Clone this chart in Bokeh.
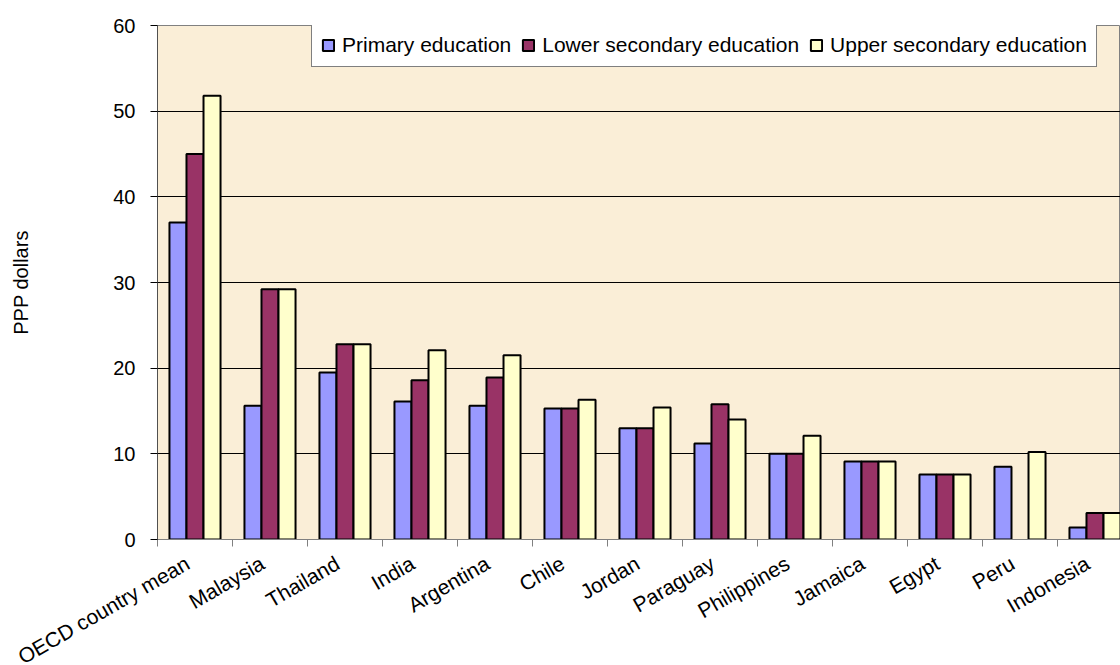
from bokeh.plotting import figure
from bokeh.models import ColumnDataSource, FixedTicker, Range1d, Legend, LegendItem
from bokeh.transform import dodge
from bokeh.embed import file_html
from bokeh.resources import INLINE
import math

# Annual expenditure per student, PPP dollars
countries = ["OECD country mean", "Malaysia", "Thailand", "India", "Argentina", "Chile",
             "Jordan", "Paraguay", "Philippines", "Jamaica", "Egypt", "Peru", "Indonesia"]
primary = [37.0, 15.6, 19.5, 16.1, 15.6, 15.3, 13.0, 11.2, 10.0, 9.1, 7.6, 8.5, 1.4]
lower_secondary = [45.0, 29.2, 22.8, 18.6, 18.9, 15.3, 13.0, 15.8, 10.0, 9.1, 7.6, float("nan"), 3.1]
upper_secondary = [51.8, 29.2, 22.8, 22.1, 21.5, 16.3, 15.4, 14.0, 12.1, 9.1, 7.6, 10.2, 3.1]
series_names = ["Primary education", "Lower secondary education", "Upper secondary education"]
y_ticks = [0, 10, 20, 30, 40, 50, 60]
grid_ticks = [10, 20, 30, 40, 50]

FONT = "Liberation Sans"
colors = ["#9999FF", "#993366", "#FFFFCC"]

pos = list(range(len(countries)))
source = ColumnDataSource(dict(x=pos, primary=primary, lower=lower_secondary, upper=upper_secondary))

# fixed frame; the rotated category names run past the bottom of the page
p = figure(width=1120, frame_height=514, output_backend="svg", toolbar_location=None,
           x_range=Range1d(-0.5, 12.34), y_range=Range1d(0, 60),
           min_border_left=157, min_border_right=0, min_border_top=25, min_border_bottom=126)

p.background_fill_color = "#FAEED7"
p.border_fill_color = "white"
p.outline_line_color = "#808080"
p.outline_line_width = 1

bw = 0.227
renderers = []
for field, off, col in zip(["primary", "lower", "upper"], [-bw, 0.0, bw], colors):
    r = p.vbar(x=dodge("x", off, range=p.x_range), top=field, width=bw, bottom=0,
               source=source, fill_color=col, line_color="black", line_width=2)
    renderers.append(r)

# x axis: rotated category names, tick marks between categories
label_shift = 0.1
label_pos = [i - label_shift for i in pos]
xax = p.xaxis[0]
xax.ticker = FixedTicker(ticks=label_pos, minor_ticks=[i - 0.5 for i in range(len(countries) + 1)])
xax.major_label_overrides = {lp: name for lp, name in zip(label_pos, countries)}
xax.major_label_orientation = math.radians(30)
xax.major_tick_out = 0
xax.major_tick_in = 0
xax.minor_tick_out = 7
xax.minor_tick_in = 0
xax.minor_tick_line_color = "#808080"
xax.axis_line_color = "#808080"
xax.major_label_text_font = FONT
xax.major_label_text_font_size = "21px"
xax.major_label_text_color = "black"
xax.major_label_standoff = 15

yax = p.yaxis[0]
yax.ticker = FixedTicker(ticks=y_ticks)
yax.major_tick_out = 7
yax.major_tick_in = 0
yax.minor_tick_line_color = None
yax.major_tick_line_color = "black"
yax.axis_line_color = "#505050"
yax.major_label_text_font = FONT
yax.major_label_text_font_size = "20px"
yax.major_label_text_color = "black"
yax.major_label_standoff = 15
yax.axis_label = "PPP dollars"
yax.axis_label_text_font = FONT
yax.axis_label_text_font_size = "20px"
yax.axis_label_text_font_style = "normal"
yax.axis_label_text_color = "black"
yax.axis_label_standoff = 78

p.xgrid.grid_line_color = None
p.ygrid.ticker = FixedTicker(ticks=grid_ticks)
p.ygrid.grid_line_color = "black"
p.ygrid.grid_line_width = 1

legend = Legend(items=[LegendItem(label=n, renderers=[r]) for n, r in zip(series_names, renderers)],
                orientation="horizontal", location=(154, 472))
legend.background_fill_color = "white"
legend.background_fill_alpha = 1
legend.border_line_color = "black"
legend.border_line_width = 1
legend.label_text_font = FONT
legend.label_text_font_size = "21px"
legend.label_text_color = "black"
legend.glyph_width = 14
legend.glyph_height = 14
legend.label_standoff = 7
legend.spacing = 10
legend.padding = 9
legend.margin = 0
p.add_layout(legend, "center")

html = file_html(p, INLINE)
html = html.replace("<head>", "<head><style>html, body { margin: 0; overflow: hidden; }</style>", 1)
open("out.html", "w").write(html)
